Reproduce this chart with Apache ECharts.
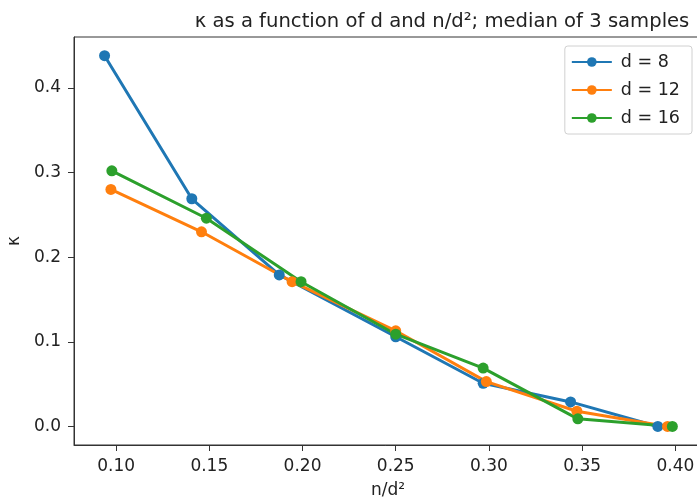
<!DOCTYPE html>
<html>
<head>
<meta charset="utf-8">
<script src="https://cdn.jsdelivr.net/npm/echarts@6/dist/echarts.min.js"></script>
<style>html,body{margin:0;padding:0;background:#fff}#c{width:697px;height:501px}</style>
</head>
<body>
<div id="c"></div>
<script>
const seriesNames = ['d = 8', 'd = 12', 'd = 16'];
const xD8  = [0.0938, 0.1406, 0.1875, 0.2500, 0.2969, 0.3438, 0.3906];
const yD8  = [0.438, 0.269, 0.179, 0.106, 0.051, 0.029, 0.000];
const xD12 = [0.0972, 0.1458, 0.1944, 0.2500, 0.2986, 0.3472, 0.3958];
const yD12 = [0.280, 0.230, 0.171, 0.113, 0.053, 0.018, 0.000];
const xD16 = [0.0977, 0.1484, 0.1992, 0.2500, 0.2969, 0.3477, 0.3984];
const yD16 = [0.302, 0.246, 0.171, 0.109, 0.069, 0.009, 0.000];
const xTicks = [0.10, 0.15, 0.20, 0.25, 0.30, 0.35, 0.40];
const yTicks = [0.0, 0.1, 0.2, 0.3, 0.4];
const colors = ['#1f77b4', '#ff7f0e', '#2ca02c'];

const xs = [xD8, xD12, xD16], ys = [yD8, yD12, yD16];
const font = 'DejaVu Sans';
const chart = echarts.init(document.getElementById('c'), null, {renderer: 'canvas'});
chart.setOption({
  animation: false,
  backgroundColor: '#fff',
  title: {
    text: 'κ as a function of d and n/d²; median of 3 samples',
    left: 437, top: 7, textAlign: 'center',
    textStyle: {fontFamily: font, fontSize: 19.6, fontWeight: 'normal', color: '#222'}
  },
  legend: {
    right: 5, top: 46, orient: 'vertical',
    data: seriesNames,
    itemWidth: 40, itemHeight: 12, itemGap: 10,
    padding: [7, 12, 7, 6],
    borderColor: '#d0d0d0', borderWidth: 1, borderRadius: 3,
    backgroundColor: 'rgba(255,255,255,0.8)',
    textStyle: {fontFamily: font, fontSize: 17.5, color: '#222', padding: [0, 0, 0, 4]}
  },
  grid: {left: 74, top: 37, right: -5, bottom: 56, show: true, borderColor: '#333', borderWidth: 1,
         containLabel: false, outerBoundsMode: 'none'},
  xAxis: {
    type: 'value', min: 0.0774, max: 0.4143,
    name: 'n/d²', nameLocation: 'middle', nameGap: 37,
    nameTextStyle: {fontFamily: font, fontSize: 17, color: '#222'},
    axisLine: {show: true, onZero: false, lineStyle: {color: '#333', width: 1}},
    axisTick: {show: true, length: 6, inside: false, customValues: xTicks, lineStyle: {color: '#333'}},
    axisLabel: {customValues: xTicks, margin: 13, fontFamily: font, fontSize: 17, color: '#222', formatter: v => v.toFixed(2)},
    splitLine: {show: false}
  },
  yAxis: {
    type: 'value', min: -0.0219, max: 0.4601,
    name: 'κ', nameLocation: 'middle', nameGap: 51, nameRotate: 90,
    nameTextStyle: {fontFamily: font, fontSize: 17, color: '#222'},
    axisLine: {show: true, onZero: false, lineStyle: {color: '#333', width: 1}},
    axisTick: {show: true, length: 6, customValues: yTicks, lineStyle: {color: '#333'}},
    axisLabel: {customValues: yTicks, margin: 13, fontFamily: font, fontSize: 17, color: '#222', formatter: v => v.toFixed(1)},
    splitLine: {show: false}
  },
  series: seriesNames.map((n, i) => ({
    name: n, type: 'line',
    data: xs[i].map((x, j) => [x, ys[i][j]]),
    symbol: 'circle', symbolSize: 11,
    lineStyle: {width: 3, color: colors[i]},
    itemStyle: {color: colors[i]},
    color: colors[i]
  }))
});
</script>
</body>
</html>
